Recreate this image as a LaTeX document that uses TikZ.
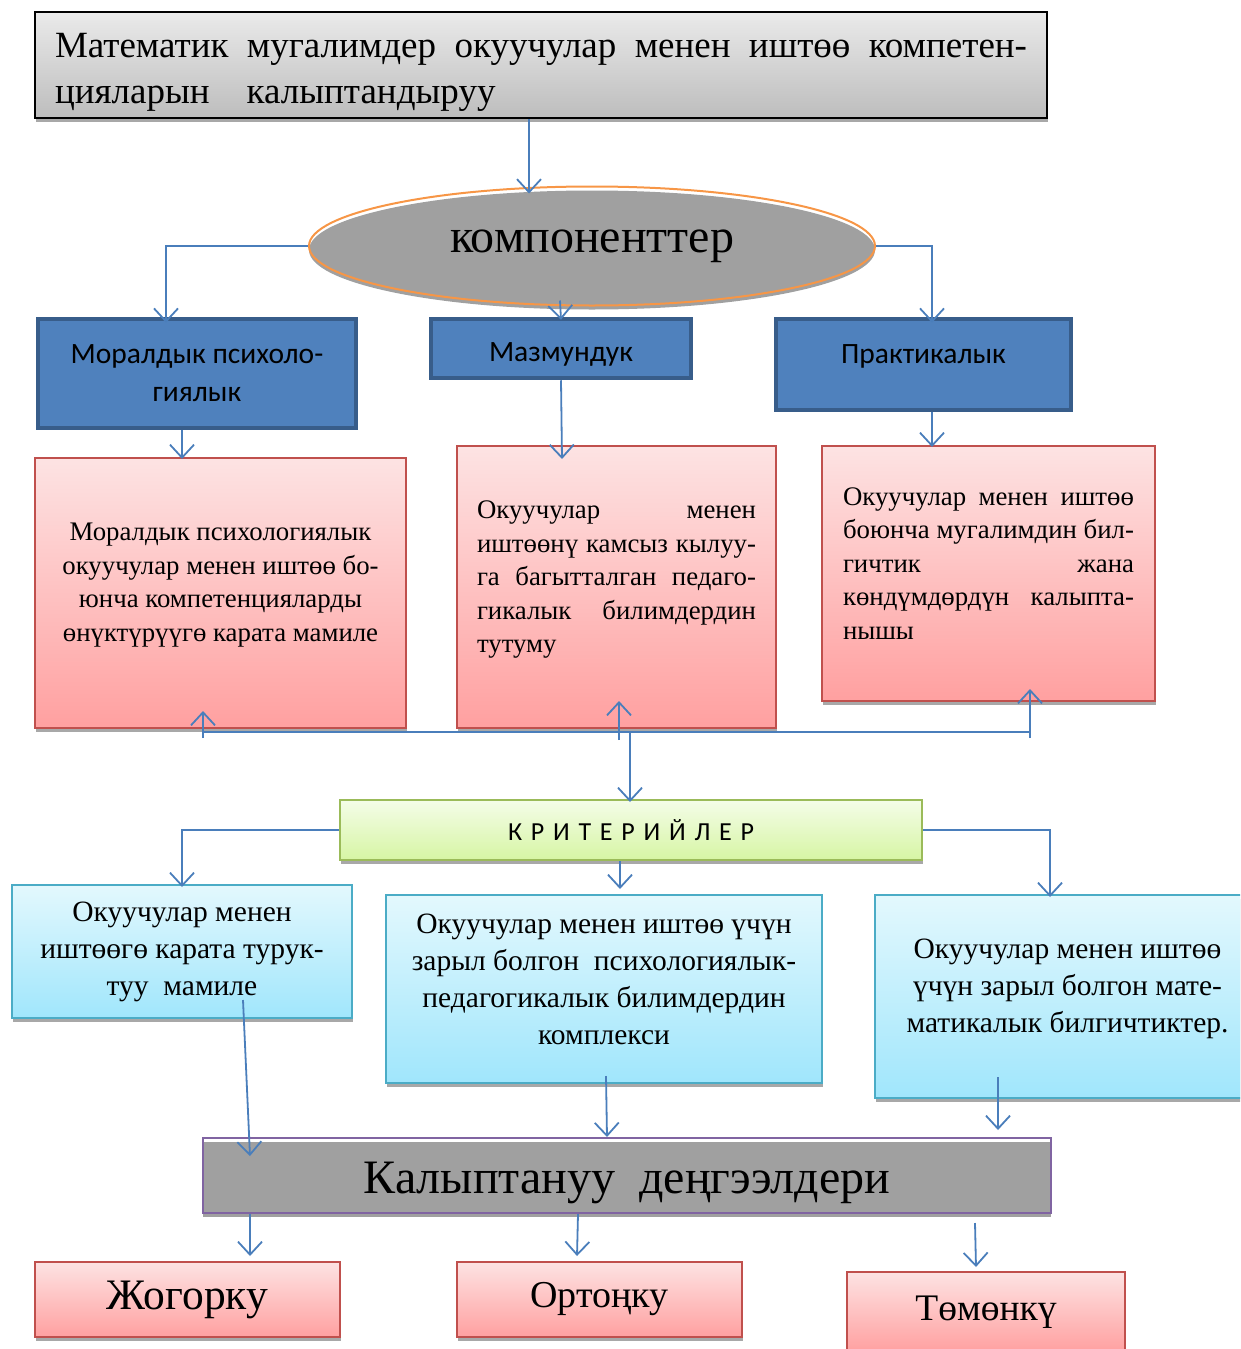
\documentclass[tikz,border=0pt]{standalone}
\usepackage{fontspec}
\setmainfont{Liberation Serif}
\setsansfont{Carlito}
\usepackage{tikz}
\usetikzlibrary{shapes.geometric,arrows.meta,shadows}

\definecolor{arrowblue}{HTML}{4A7EBB}
\definecolor{compfill}{HTML}{4F81BD}
\definecolor{compline}{HTML}{385D8A}
\definecolor{pinktop}{HTML}{FDE3E3}
\definecolor{pinkbot}{HTML}{FFA0A0}
\definecolor{pinkline}{HTML}{C0504D}
\definecolor{cyantop}{HTML}{E3F8FD}
\definecolor{cyanbot}{HTML}{A0E6FC}
\definecolor{cyanline}{HTML}{4BACC6}
\definecolor{greentop}{HTML}{F4FDE8}
\definecolor{greenbot}{HTML}{D6F5A4}
\definecolor{greenline}{HTML}{9BBB59}
\definecolor{headtop}{HTML}{EAEAEA}
\definecolor{headbot}{HTML}{BDBDBD}
\definecolor{midgray}{HTML}{A0A0A0}
\definecolor{ovalline}{HTML}{F79646}
\definecolor{lvlline}{HTML}{8064A2}
\definecolor{shadowgray}{HTML}{A8A8A8}

\newcommand{\fullline}[2]{\makebox[#1][s]{#2}}
\newcommand{\lowstrut}[1]{\rule[-#1]{0pt}{1pt}}

\begin{document}
\begin{tikzpicture}[x=1pt,y=-1pt,
  conn/.style={draw=arrowblue, line width=1.8pt},
  arr/.style={conn, -{Straight Barb[length=13pt,width=24pt]}},
  shadowed/.style={general shadow={fill=shadowgray, shadow xshift=1pt, shadow yshift=-4pt}},
  grayshift/.style={general shadow={fill=midgray, shadow yshift=-4pt}},
  box/.style={rectangle, inner sep=0pt, shadowed},
  headbox/.style={box, top color=headtop, bottom color=headbot, draw=black, line width=2pt,
    align=left, font=\fontsize{37}{46}\selectfont},
  compbox/.style={rectangle, inner sep=0pt, fill=compfill, draw=compline, line width=4.5pt,
    align=center, font=\sffamily\fontsize{29.5}{38}\selectfont},
  pinkbox/.style={box, top color=pinktop, bottom color=pinkbot, draw=pinkline, line width=2pt,
    align=center, font=\fontsize{26.8}{33.5}\selectfont},
  cyanbox/.style={box, top color=cyantop, bottom color=cyanbot, draw=cyanline, line width=2pt,
    align=center, font=\fontsize{29.5}{37}\selectfont},
  levelbox/.style={pinkbox, font=\fontsize{38}{44}\selectfont}]
\clip (0,0) rectangle (1240,1349);

% top
\node [headbox, minimum width=1012pt, minimum height=106pt] (title) at (541,65)
  {\rule{0pt}{39pt}\fullline{972pt}{Математик мугалимдер окуучулар менен иштөө компетен-}\\
   цияларын\ \ \ \ калыптандыруу};
\node [ellipse, inner sep=0pt, minimum width=566pt, minimum height=119pt,
  draw=ovalline, line width=2pt, grayshift, font=\fontsize{48}{56}\selectfont] (comp) at (592,246)
  {компоненттер};

% components
\node [compbox, minimum width=318pt, minimum height=109pt] (moral) at (197,373.5)
  {Моралдык психоло-\\гиялык};
\node [compbox, minimum width=260pt, minimum height=59pt] (content) at (561,348.5)
  {\rule{0pt}{31pt}Мазмундук};
\node [compbox, minimum width=295pt, minimum height=91pt] (practice) at (923.5,364.5)
  {Практикалык\lowstrut{20pt}};

\node [pinkbox, minimum width=371pt, minimum height=270pt] (moraltxt) at (220.5,593)
  {Моралдык психологиялык\\окуучулар менен иштөө бо-\\юнча компетенцияларды\\өнүктүрүүгө карата мамиле\lowstrut{22pt}};
\node [pinkbox, align=left, minimum width=319pt, minimum height=282pt] (contenttxt) at (616.5,587)
  {\fullline{279pt}{Окуучулар менен}\\
   \fullline{279pt}{иштөөнү камсыз кылуу-}\\
   \fullline{279pt}{га багытталган педаго-}\\
   \fullline{279pt}{гикалык билимдердин}\\
   тутуму\lowstrut{20pt}};
\node [pinkbox, align=left, minimum width=333pt, minimum height=255pt] (practicetxt) at (988.5,573.5)
  {\fullline{291pt}{Окуучулар менен иштөө}\\
   \fullline{291pt}{боюнча мугалимдин бил-}\\
   \fullline{291pt}{гичтик жана}\\
   \fullline{291pt}{көндүмдөрдүн калыпта-}\\
   нышы\lowstrut{20pt}};

% criteria
\node [box, top color=greentop, bottom color=greenbot, draw=greenline, line width=2pt,
  minimum width=582pt, minimum height=60pt, font=\sffamily\fontsize{26}{30}\selectfont] (crit) at (631,830)
  {\fullline{246pt}{К Р И Т Е Р И Й Л Е Р}};

\node [cyanbox, minimum width=340pt, minimum height=133pt] (attitude) at (182,951.5)
  {Окуучулар менен\\иштөөгө карата турук-\\туу\ \ мамиле};
\node [cyanbox, minimum width=436pt, minimum height=188pt] (knowledge) at (604,989)
  {Окуучулар менен иштөө үчүн\\зарыл болгон\ \ психологиялык-\\педагогикалык билимдердин\\комплекси\lowstrut{20pt}};
\node [cyanbox, minimum width=385pt, minimum height=203pt] (skills) at (1067.5,996.5)
  {Окуучулар менен иштөө\\үчүн зарыл болгон мате-\\матикалык билгичтиктер.\lowstrut{21pt}};

% levels
\node [rectangle, inner sep=0pt, draw=lvlline, line width=2pt, grayshift, minimum width=848pt, minimum height=75pt,
  font=\fontsize{48}{52}\selectfont] (levels) at (627,1175.5)
  {\rule{0pt}{46pt}Калыптануу\ \ деңгээлдери};

\node [levelbox, minimum width=305pt, minimum height=75pt, font=\fontsize{43.5}{46}\selectfont] (high) at (187.5,1299.5) {Жогорку};
\node [levelbox, minimum width=285pt, minimum height=75pt] (middle) at (599.5,1299.5) {Ортоңку};
\node [levelbox, minimum width=278pt, minimum height=80pt, font=\fontsize{37.5}{44}\selectfont] (low) at (986,1312) {Төмөнкү};

% connectors, top half
\draw [arr] ([xshift=-12pt]title.south) -- ([xshift=-12pt,yshift=-8pt]title.south |- comp.north);
\draw [arr] (comp.west) -| ([xshift=-31pt,yshift=-6pt]moral.north);
\draw [arr] (comp.east) -| ([xshift=8.5pt,yshift=-6pt]practice.north);
\draw [arr] ([xshift=-32pt,yshift=6pt]comp.south) -- ([yshift=-3pt]content.north);
\draw [arr] ([xshift=-15pt]moral.south) -- ([xshift=-15pt,yshift=-2pt]moral.south |- moraltxt.north);
\draw [arr] (content.south) -- ([xshift=1pt,yshift=-14pt]content.south |- contenttxt.north);
\draw [arr] ([xshift=8.5pt]practice.south) -- ([xshift=8.5pt,yshift=-2pt]practice.south |- practicetxt.north);

\coordinate (hub) at (630,732);
\draw [conn] ([xshift=-17.5pt]moraltxt.south |- hub) -- ([xshift=41.5pt]practicetxt.south |- hub);
\draw [arr] ([xshift=-17.5pt,yshift=-6pt]moraltxt.south |- hub) -- ([xshift=-17.5pt,yshift=18pt]moraltxt.south);
\draw [arr] ([xshift=2.5pt,yshift=-8pt]contenttxt.south |- hub) -- ([xshift=2.5pt,yshift=28pt]contenttxt.south);
\draw [arr] ([xshift=41.5pt,yshift=-6pt]practicetxt.south |- hub) -- ([xshift=41.5pt,yshift=13pt]practicetxt.south);
\draw [arr] (hub) -- ([yshift=-3pt]hub |- crit.north);

% connectors, bottom half
\draw [arr] (crit.west) -| ([yshift=-3pt]attitude.north);
\draw [arr] ([xshift=-11pt]crit.south) -- ([xshift=-11pt,yshift=5pt]crit.south |- knowledge.north);
\draw [arr] (crit.east) -| ([xshift=-17.5pt,yshift=-3pt]skills.north);
\draw [arr] ([xshift=61pt,yshift=-48.5pt]attitude.center) -- ([xshift=-377pt,yshift=-19pt]levels.north);
\draw [arr] ([xshift=2pt,yshift=8pt]knowledge.south) -- ([xshift=-20pt]levels.north);
\draw [arr] ([xshift=-69.5pt,yshift=22pt]skills.south) -- ([xshift=-69.5pt,yshift=7pt]skills.south |- levels.north);
\draw [arr] ([xshift=-377pt]levels.south) -- ([xshift=-377pt,yshift=5pt]levels.south |- high.north);
\draw [arr] ([xshift=-49pt]levels.south) -- ([xshift=-50pt,yshift=5pt]levels.south |- middle.north);
\draw [arr] ([xshift=348pt,yshift=-9pt]levels.south) -- ([xshift=349pt,yshift=4pt]levels.south |- low.north);
\end{tikzpicture}
\end{document}
